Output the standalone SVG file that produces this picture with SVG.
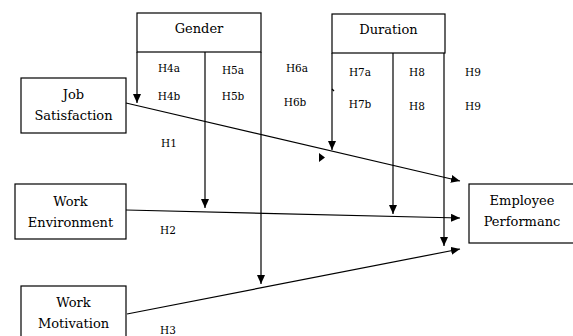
<svg xmlns="http://www.w3.org/2000/svg" width="573" height="336" viewBox="0 0 573 336">
<defs>
<marker id="ah" markerWidth="9" markerHeight="8" refX="9" refY="4" orient="auto" markerUnits="userSpaceOnUse">
<path d="M0,0 L9,4 L0,8 Z" fill="#000"/>
</marker>
<style>
.box{fill:#fff;stroke:#000;stroke-width:1.2}
.ln{fill:none;stroke:#000;stroke-width:1.2}
.c{stroke:#000;stroke-width:1.2;fill:none;marker-end:url(#ah)}
.t{font-family:"DejaVu Serif","Liberation Serif",serif;font-size:13px;fill:#000;text-anchor:middle}
.h{font-family:"DejaVu Serif","Liberation Serif",serif;font-size:10.5px;fill:#000;text-anchor:middle}
</style>
</defs>
<rect width="573" height="336" fill="#fff"/>
<g id="gender">
<rect class="box" x="137" y="13" width="124" height="39"/>
<text class="t" x="199" y="33">Gender</text>
</g>
<g id="duration">
<rect class="box" x="332" y="14" width="113" height="39"/>
<text class="t" x="388.5" y="34">Duration</text>
</g>
<g id="job-satisfaction">
<rect class="box" x="21" y="78" width="105" height="55"/>
<text class="t" x="73.5" y="99">Job</text>
<text class="t" x="73.5" y="120">Satisfaction</text>
</g>
<g id="work-environment">
<rect class="box" x="15" y="184" width="111" height="55"/>
<text class="t" x="70.5" y="206">Work</text>
<text class="t" x="70.5" y="227">Environment</text>
</g>
<g id="work-motivation">
<rect class="box" x="21" y="286" width="105" height="55"/>
<text class="t" x="73.5" y="307">Work</text>
<text class="t" x="73.5" y="328">Motivation</text>
</g>
<g id="employee-performance">
<rect class="box" x="469" y="184" width="108" height="59"/>
<text class="t" x="522" y="205">Employee</text>
<text class="t" x="522" y="226">Performanc</text>
</g>
<g id="connectors">
<path class="c" d="M126,103 L460,181"/>
<path class="c" d="M126,210 L460,218"/>
<path class="c" d="M127,314 L460,249"/>
<path class="c" d="M137,52 L137,103"/>
<path class="c" d="M205,52 L205,208"/>
<path class="c" d="M261,52 L261,284"/>
<path class="c" d="M332,53 L332,150"/>
<path class="c" d="M393,53 L393,214"/>
<path class="c" d="M444,53 L444,246"/>
<path d="M319,153 L325,157.5 L319,162 Z" fill="#000"/>
<path class="ln" d="M332,89 L334,91" stroke-width="0.8"/>
</g>
<g id="labels">
<text class="h" x="169" y="72">H4a</text>
<text class="h" x="169" y="100">H4b</text>
<text class="h" x="233" y="74">H5a</text>
<text class="h" x="233" y="100">H5b</text>
<text class="h" x="297" y="72">H6a</text>
<text class="h" x="295" y="106">H6b</text>
<text class="h" x="360" y="76">H7a</text>
<text class="h" x="360" y="108">H7b</text>
<text class="h" x="417" y="76">H8</text>
<text class="h" x="417" y="110">H8</text>
<text class="h" x="473" y="76">H9</text>
<text class="h" x="473" y="110">H9</text>
<text class="h" x="169" y="147">H1</text>
<text class="h" x="168" y="234">H2</text>
<text class="h" x="168" y="334">H3</text>
</g>
</svg>
